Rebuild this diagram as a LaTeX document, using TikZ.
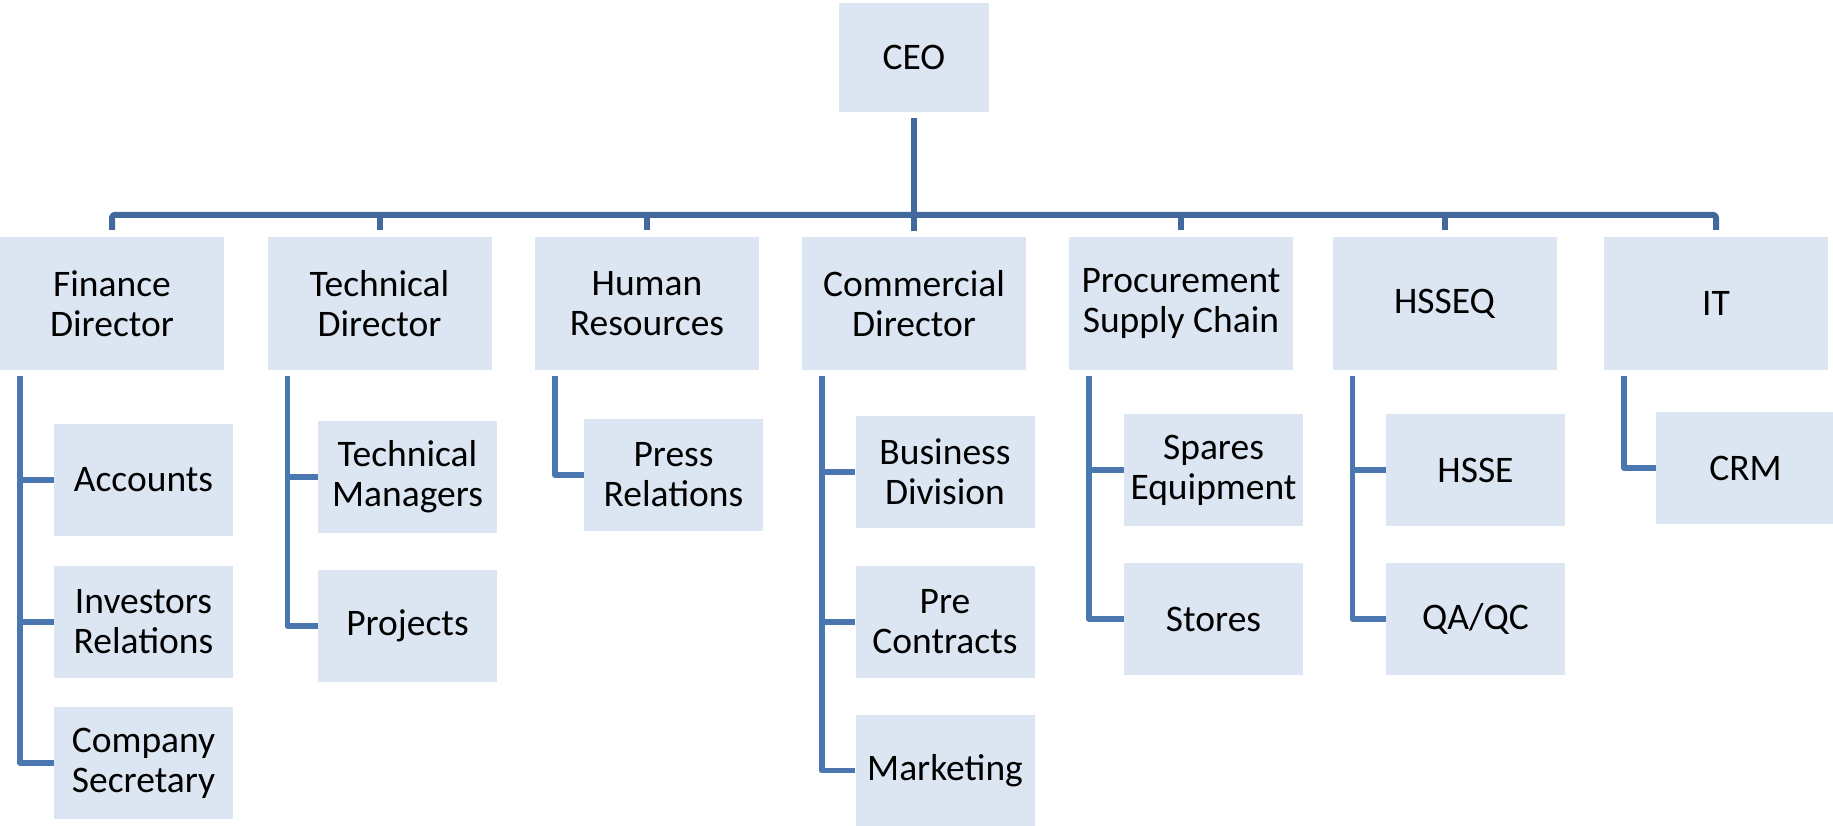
\documentclass[tikz,border=0pt]{standalone}
\usepackage{fontspec}
\setmainfont{Carlito}
\definecolor{boxfill}{HTML}{DCE6F2}
\definecolor{busline}{HTML}{41699C}
\definecolor{stemline}{HTML}{4A77AF}
\begin{document}
\begin{tikzpicture}[x=1pt,y=-1pt,
  box/.style={fill=boxfill, draw=none, inner sep=0pt, align=center, text=black,
              font=\fontsize{37.5}{40}\selectfont},
  lvl/.style={box, minimum width=224pt, minimum height=133pt},
  sub/.style={box, minimum width=179pt, minimum height=112pt},
  busl/.style={draw=busline, line width=6pt, line join=round},
  steml/.style={draw=stemline, line width=5.5pt, line join=round}]
\useasboundingbox (0,0) rectangle (1833,826);

% CEO
\node[box, minimum width=150pt, minimum height=109pt] (ceo) at (914,57.5) {CEO};

% Level 1
\node[lvl] (fin)   at (112,303.5)    {Finance\\Director};
\node[lvl] (tech)  at (379.5,303.5)  {Technical\\Director};
\node[lvl] (hr)    at (647,303.5)    {Human\\Resources};
\node[lvl] (com)   at (914,303.5)    {Commercial\\Director};
\node[lvl] (proc)  at (1181,303.5)   {Procurement\\Supply Chain};
\node[lvl] (hsseq) at (1444.5,303.5) {HSSEQ};
\node[lvl] (it)    at (1716,303.5)   {IT};

% Level 2
\node[sub] (acc)    at (143.5,480)  {Accounts};
\node[sub] (inv)    at (143.5,622)  {Investors\\Relations};
\node[sub] (csec)   at (143.5,763)  {Company\\Secretary};
\node[sub] (tmgr)   at (407.5,477)  {Technical\\Managers};
\node[sub] (proj)   at (407.5,626)  {Projects};
\node[sub] (press)  at (673.5,475)  {Press\\Relations};
\node[sub] (busdiv) at (945,472)    {Business\\Division};
\node[sub] (pre)    at (945,622)    {Pre\\Contracts};
\node[sub] (mkt)    at (945,770.5)  {Marketing};
\node[sub] (spares) at (1213.5,470) {Spares\\Equipment};
\node[sub] (stores) at (1213.5,619) {Stores};
\node[sub] (hsse)   at (1475.5,470) {HSSE};
\node[sub] (qaqc)   at (1475.5,619) {QA/QC};
\node[sub] (crm)    at (1745.5,468) {CRM};

% CEO stem and bus
\draw[busl] ([yshift=-6pt]ceo.south) -- ++(0,113);
\draw[busl, rounded corners=3pt] ([yshift=7pt]fin.north) -- ++(0,-15) -| ([yshift=7pt]it.north);
\foreach \n in {tech,hr,com,proc,hsseq}
  \draw[busl] ([yshift=7pt]\n.north) -- ++(0,-16);

% Stems to sub units
\foreach \p/\c in {fin/acc,fin/inv,fin/csec,tech/tmgr,tech/proj,hr/press,
                   com/busdiv,com/pre,com/mkt,proc/spares,proc/stores,
                   hsseq/hsse,hsseq/qaqc,it/crm}
  \draw[steml] ([xshift=20pt,yshift=-6pt]\p.south west) |- (\c.west);
\end{tikzpicture}
\end{document}
